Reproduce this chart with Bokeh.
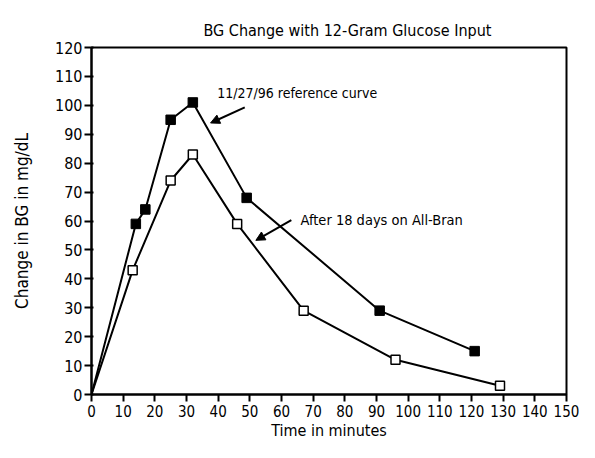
from bokeh.plotting import figure
from bokeh.models import Range1d, SingleIntervalTicker, Arrow, NormalHead, Label, Title
from bokeh.embed import file_html
from bokeh.resources import INLINE

# Data
ref_time = [0, 14, 17, 25, 32, 49, 91, 121]
ref_bg = [0, 59, 64, 95, 101, 68, 29, 15]
bran_time = [0, 13, 25, 32, 46, 67, 96, 129]
bran_bg = [0, 43, 74, 83, 59, 29, 12, 3]

x_ticks_interval = 10
y_ticks_interval = 10

FONT = "DejaVu Sans Condensed"

p = figure(width=579, height=442, output_backend="svg", toolbar_location=None,
           x_range=Range1d(0, 150), y_range=Range1d(0, 120),
           min_border_left=91, min_border_right=13, min_border_top=47, min_border_bottom=44)

p.title = Title(text="BG Change with 12-Gram Glucose Input", align="left", offset=112,
                text_font=FONT, text_font_size="16px", text_font_style="normal",
                text_color="black", vertical_align="top", standoff=12)

p.xgrid.visible = False
p.ygrid.visible = False
p.outline_line_color = "black"
p.outline_line_width = 2
p.outline_line_alpha = 1

for ax in (p.xaxis[0], p.yaxis[0]):
    ax.axis_line_width = 2
    ax.axis_line_color = "black"
    ax.major_tick_line_width = 2
    ax.major_tick_line_color = "black"
    ax.minor_tick_line_color = None
    ax.major_label_text_font = FONT
    ax.major_label_text_font_size = "15px"
    ax.major_label_text_color = "black"
    ax.axis_label_text_font = FONT
    ax.axis_label_text_font_size = "16px"
    ax.axis_label_text_font_style = "normal"
    ax.axis_label_text_color = "black"

p.yaxis[0].axis_label_text_font_size = "17px"
p.yaxis[0].major_label_text_font_size = "16px"
p.xaxis[0].ticker = SingleIntervalTicker(interval=x_ticks_interval)
p.yaxis[0].ticker = SingleIntervalTicker(interval=y_ticks_interval)
p.xaxis[0].major_tick_out = 7
p.xaxis[0].major_tick_in = 0
p.yaxis[0].major_tick_out = 7
p.yaxis[0].major_tick_in = 2
p.xaxis[0].major_label_standoff = 3
p.yaxis[0].major_label_standoff = 2
p.xaxis[0].axis_label = "Time in minutes"
p.yaxis[0].axis_label = "Change in BG in mg/dL"
p.xaxis[0].axis_label_standoff = 1
p.yaxis[0].axis_label_standoff = 20

p.line(ref_time, ref_bg, line_color="black", line_width=2)
p.line(bran_time, bran_bg, line_color="black", line_width=2)
p.scatter(ref_time[1:], ref_bg[1:], marker="square", size=9.5, fill_color="black", line_color="black")
p.scatter(bran_time[1:], bran_bg[1:], marker="square", size=9, fill_color="white",
          line_color="black", line_width=1.5)

head_kw = dict(size=9, fill_color="black", line_color="black")
p.add_layout(Arrow(end=NormalHead(**head_kw), x_start=48.4, y_start=99.3, x_end=37.6, y_end=93.9,
                   line_width=2, line_color="black"))
p.add_layout(Arrow(end=NormalHead(**head_kw), x_start=63.1, y_start=60.3, x_end=51.9, y_end=53.3,
                   line_width=2, line_color="black"))

p.add_layout(Label(x=39.7, y=104.1, text="11/27/96 reference curve", text_font=FONT,
                   text_font_size="14px", text_baseline="middle", text_color="black"))
p.add_layout(Label(x=66.0, y=60.3, text="After 18 days on All-Bran", text_font=FONT,
                   text_font_size="14.5px", text_baseline="middle", text_color="black"))

open("out.html", "w").write(file_html(p, INLINE))
